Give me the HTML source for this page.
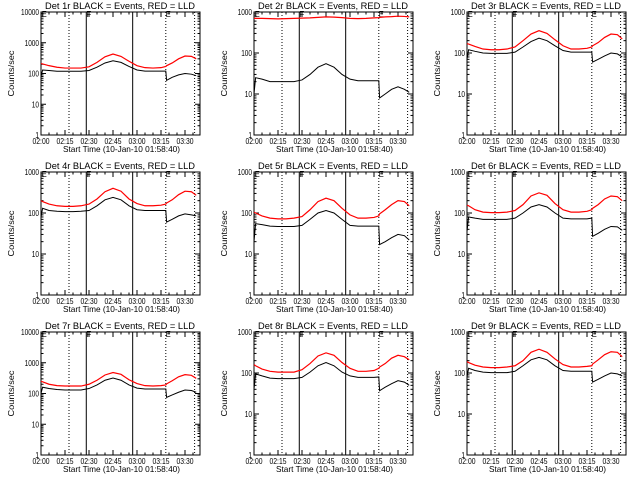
<!DOCTYPE html>
<html><head><meta charset="utf-8"><style>
html,body{margin:0;padding:0;background:#fff}
svg{display:block}
text{font-family:"Liberation Sans",sans-serif;fill:#000}
</style></head><body>
<svg id="chart" width="640" height="480" viewBox="0 0 640 480" xmlns="http://www.w3.org/2000/svg"></svg>
<script>
const times = [0,1,5,10,15,20,25,30,35,40,45,50,55,60,65,70,75,78,78.5,82,86,90,94,97];
const detNames = ["1r","2r","3r","4r","5r","6r","7r","8r","9r"];
const decades = [4,3,3,3,3,3,4,3,3];
const xTickLabels = ["02:00","02:15","02:30","02:45","03:00","03:15","03:30"];
const xTickMinutes = [0,15,30,45,60,75,90];
const dottedLines = [17.5,78,96];
const solidLines = [28.3,57.3];
const markerLetters = ["E","F","E"];
const markerMinutes = [0.5,28.3,78];
const black1=[80,130,125,118,118,118,118,125,160,220,260,230,170,130,120,120,120,120,60,75,90,100,95,85];
const red1=[210,205,180,160,150,150,150,165,230,350,430,360,250,180,155,150,155,170,180,220,300,370,360,300];
const black2=[10,25,23,20,20,20,20,22,30,45,55,45,30,23,21,21,21,21,8,10,13,15,13,11];
const red2=[700,700,700,690,680,690,700,710,720,740,760,750,730,700,690,700,720,730,740,760,770,790,780,760];
const black3=[70,120,110,100,98,98,98,105,140,190,230,200,150,115,105,105,105,105,60,70,85,100,95,80];
const red3=[170,165,145,125,120,120,125,140,200,290,350,300,210,150,125,125,130,140,150,180,240,290,280,220];
const black4=[80,130,115,110,108,108,110,115,150,210,240,210,150,120,115,115,115,115,60,70,85,95,90,85];
const red4=[200,190,165,150,145,145,150,165,220,330,400,340,220,170,150,150,155,165,175,210,280,340,330,270];
const black5=[20,55,52,48,47,47,47,50,70,100,115,100,70,50,48,48,48,48,17,20,25,30,28,22];
const red5=[105,100,85,75,72,72,75,82,120,190,230,200,130,90,75,75,78,85,95,120,160,200,190,150];
const black6=[35,80,75,70,70,70,70,75,100,140,160,140,100,75,72,72,72,75,27,32,40,47,46,38];
const red6=[155,150,120,105,102,102,105,115,160,260,310,270,170,120,105,105,110,120,130,160,220,260,250,200];
const black7=[100,160,145,135,130,130,130,145,190,270,320,270,190,150,140,140,140,140,75,90,110,130,125,110];
const red7=[250,240,200,180,175,175,175,200,270,400,480,420,280,210,180,175,180,190,205,260,350,410,390,310];
const black8=[40,95,85,75,73,73,73,78,105,150,180,150,105,85,78,78,78,80,37,45,55,65,60,50];
const red8=[160,150,125,110,105,105,105,120,170,260,310,270,180,130,110,110,115,130,140,170,230,270,250,210];
const black9=[80,130,115,105,102,102,102,110,150,210,240,210,150,115,110,110,110,110,60,70,85,100,95,85];
const red9=[190,180,155,140,135,135,140,150,200,320,380,320,220,160,140,140,145,150,165,210,280,330,320,250];
const blackSeries=[black1,black2,black3,black4,black5,black6,black7,black8,black9];
const redSeries=[red1,red2,red3,red4,red5,red6,red7,red8,red9];

const NS="http://www.w3.org/2000/svg";
const svg=document.getElementById("chart");
function mk(tag,attrs,parent){const e=document.createElementNS(NS,tag);for(const k in attrs)e.setAttribute(k,attrs[k]);(parent||svg).appendChild(e);return e;}

for(let p=0;p<9;p++){
  const col=p%3,row=Math.floor(p/3);
  const px=col*213,py=row*160;
  const x0=px+41,x1=px+200,y0=py+12,y1=py+135;
  const nd=decades[p];
  const xs=m=>x0+m*1.6;
  const ys=v=>y1-(Math.log10(v)/nd)*(y1-y0);
  const g=mk("g",{});
  
  
  const t=mk("text",{x:px+45,y:py+9,"font-size":"9.5",textLength:150,lengthAdjust:"spacingAndGlyphs"},g);
  t.textContent="Det "+detNames[p]+" BLACK = Events, RED = LLD";
  
  
  dottedLines.forEach(m=>{const l=mk("line",{x1:xs(m),x2:xs(m),y1:y0,y2:y1,stroke:"#000","stroke-width":1,"stroke-dasharray":"1,2"},g);
    });
  solidLines.forEach(m=>{const l=mk("line",{x1:xs(m),x2:xs(m),y1:y0,y2:y1,stroke:"#000","stroke-width":1},g);
    });
  markerLetters.forEach((s,i)=>{const tx=mk("text",{x:xs(markerMinutes[i]),y:y0+5,"font-size":"8",textLength:5,lengthAdjust:"spacingAndGlyphs"},g);tx.textContent=s;
    });
  const b=mk("rect",{x:x0,y:y0,width:x1-x0,height:y1-y0,fill:"none",stroke:"#000","stroke-width":1},g);
  
  for(let d=0;d<=nd;d++){
    const yy=ys(Math.pow(10,d));
    mk("line",{x1:x0,x2:x0+5,y1:yy,y2:yy,stroke:"#000"},g);
    mk("line",{x1:x1,x2:x1-5,y1:yy,y2:yy,stroke:"#000"},g);
    const lab=String(Math.pow(10,d));
    const tl=mk("text",{x:x0-2,y:yy+3,"text-anchor":"end","font-size":"8",textLength:lab.length*3.6,lengthAdjust:"spacingAndGlyphs"},g);
    tl.textContent=lab;
    
    if(d<nd)for(let k=2;k<10;k++){const ym=ys(k*Math.pow(10,d));
      mk("line",{x1:x0,x2:x0+2.5,y1:ym,y2:ym,stroke:"#000"},g);
      mk("line",{x1:x1,x2:x1-2.5,y1:ym,y2:ym,stroke:"#000"},g);}
  }
  const yl=mk("text",{x:0,y:0,"text-anchor":"middle","font-size":"8",textLength:46,lengthAdjust:"spacingAndGlyphs",transform:`translate(${px+14},${(y0+y1)/2}) rotate(-90)`},g);
  yl.textContent="Counts/sec";
  
  for(let m=0;m<=99;m+=5){const xx=xs(m);const L=(m%15===0)?5:2.5;
    mk("line",{x1:xx,x2:xx,y1:y1,y2:y1-L,stroke:"#000"},g);
    mk("line",{x1:xx,x2:xx,y1:y0,y2:y0+L,stroke:"#000"},g);}
  xTickMinutes.forEach((m,i)=>{const tl=mk("text",{x:xs(m),y:y1+9,"text-anchor":"middle","font-size":"8",textLength:17,lengthAdjust:"spacingAndGlyphs"},g);
    tl.textContent=xTickLabels[i];});
  const xl=mk("text",{x:px+63,y:y1+17,"font-size":"8.5",textLength:117,lengthAdjust:"spacingAndGlyphs"},g);
  xl.textContent="Start Time (10-Jan-10 01:58:40)";
  
  const rp=mk("polyline",{points:times.map((m,i)=>xs(m)+","+ys(redSeries[p][i])).join(" "),fill:"none",stroke:"#ff0000","stroke-width":1.2},g);
  
  const bp=mk("polyline",{points:times.map((m,i)=>xs(m)+","+ys(blackSeries[p][i])).join(" "),fill:"none",stroke:"#000","stroke-width":1},g);
  
}
</script>
</body></html>
